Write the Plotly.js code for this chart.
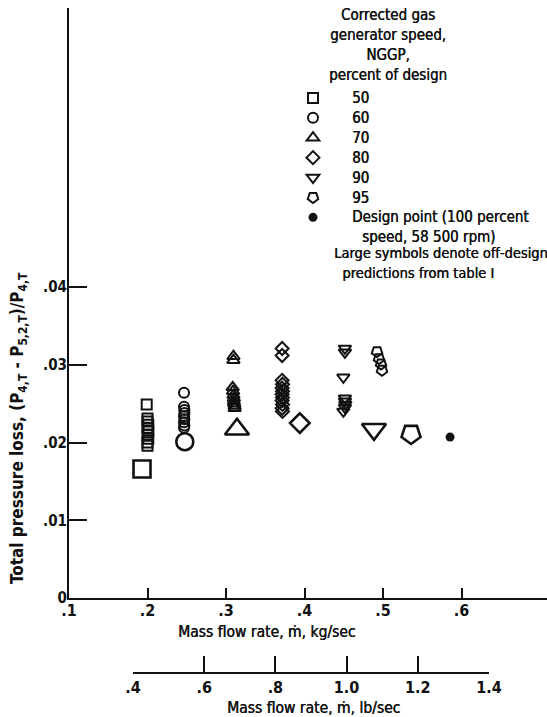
<!DOCTYPE html>
<html>
<head>
<meta charset="utf-8">
<script src="https://cdn.plot.ly/plotly-3.0.1.min.js"></script>
<style>
  html, body { margin: 0; padding: 0; background: #fff; }
  #chart { width: 547px; height: 717px; }
</style>
</head>
<body>
<div id="chart"></div>
<script>
// Total pressure loss vs. mass flow rate, by corrected gas generator speed (NGGP)

// 50 percent speed
const s50Flow = [0.199, 0.200, 0.200, 0.201, 0.200, 0.201, 0.200, 0.201, 0.200, 0.200];
const s50Loss = [0.0249, 0.0231, 0.0227, 0.0223, 0.0219, 0.0215, 0.0210, 0.0205, 0.0200, 0.0196];
// 60 percent speed
const s60Flow = [0.2465, 0.2465, 0.247, 0.247, 0.2465, 0.247, 0.2465, 0.247, 0.2465];
const s60Loss = [0.0264, 0.0246, 0.0242, 0.0238, 0.0234, 0.0230, 0.0226, 0.0222, 0.0219];
// 70 percent speed
const s70Flow = [0.3095, 0.3095, 0.3085, 0.309, 0.3095, 0.310, 0.310, 0.3105, 0.311, 0.311];
const s70Loss = [0.0311, 0.0306, 0.0271, 0.0266, 0.0261, 0.0257, 0.0253, 0.0250, 0.0247, 0.0244];
// 80 percent speed
const s80Flow = [0.3715, 0.3715, 0.3715, 0.372, 0.3715, 0.372, 0.3715, 0.372, 0.3715, 0.372, 0.3715, 0.372];
const s80Loss = [0.0321, 0.0312, 0.0280, 0.0275, 0.0270, 0.0266, 0.0262, 0.0258, 0.0254, 0.0249, 0.0244, 0.0240];
// 90 percent speed
const s90Flow = [0.4515, 0.4515, 0.4495, 0.4515, 0.4515, 0.452, 0.4515, 0.4495];
const s90Loss = [0.0321, 0.0316, 0.0284, 0.0257, 0.0253, 0.0249, 0.0245, 0.0240];
// 95 percent speed
const s95Flow = [0.4924, 0.4949, 0.4975, 0.4987];
const s95Loss = [0.0317, 0.0308, 0.0301, 0.0293];

// Off-design predictions (table I), one per speed: 50, 60, 70, 80, 90, 95
const predFlow = [0.193, 0.2475, 0.314, 0.394, 0.4885, 0.5357];
const predLoss = [0.0166, 0.0201, 0.0217, 0.0225, 0.0217, 0.0211];

// Design point (100 percent speed, 58 500 rpm)
const designFlow = [0.5854];
const designLoss = [0.0207];

const speedLabels = ['50', '60', '70', '80', '90', '95'];
const designLabel = 'Design point (100 percent';
const designLabel2 = 'speed, 58 500 rpm)';

const yTickVals = [0, 0.01, 0.02, 0.03, 0.04];
const yTickText = ['0', '.01', '.02', '.03', '.04'];
const xTickVals = [0.1, 0.2, 0.3, 0.4, 0.5, 0.6];
const xTickText = ['.1', '.2', '.3', '.4', '.5', '.6'];
const lbTickVals = [0.4, 0.6, 0.8, 1.0, 1.2, 1.4];
const lbTickText = ['.4', '.6', '.8', '1.0', '1.2', '1.4'];

const KG_PER_LB = 0.45359237;
const FONT = '"DejaVu Sans Condensed", "DejaVu Sans", sans-serif';
const INK = '#111';
const TXT = 15;   // legend text size
const HEAVY = '0.4px 0 0 #111';   // slight thickening of the regular-weight text

const xRange = [0.1, 0.7089];
const yRange = [0, 0.0759];

// page layout (pixels)
const W = 547, H = 717;
const M = {l: 69, r: 0, t: 8, b: 44};
const plotW = W - M.l - M.r, plotH = H - M.t - M.b;
const px = v => (v - M.l) / plotW;          // horizontal pixel -> paper
const py = v => (H - M.b - v) / plotH;      // vertical pixel -> paper

// larger glyphs on a tighter line pitch
const big = (s, size) => s.split('<br>').map(l => `<span style="font-size:${size || TXT}px">${l}</span>`).join('<br>');

// secondary (lb/sec) scale occupies the span of the kg axis it corresponds to
const kgToFrac = kg => (kg - xRange[0]) / (xRange[1] - xRange[0]);
const lbDomain = [kgToFrac(lbTickVals[0] * KG_PER_LB), kgToFrac(lbTickVals[lbTickVals.length - 1] * KG_PER_LB)];

const symbols = ['square-open', 'circle-open', 'triangle-up-open', 'diamond-open', 'triangle-down-open', 'pentagon-open'];
const smallSizes = [10, 10, 11, 10, 11, 11];
const largeSizes = [17, 17, 21, 15, 21, 20];
const angles = [0, 0, 0, 0, 0, 180];

const flows = [s50Flow, s60Flow, s70Flow, s80Flow, s90Flow, s95Flow];
const losses = [s50Loss, s60Loss, s70Loss, s80Loss, s90Loss, s95Loss];

const traces = [];
speedLabels.forEach((lab, i) => {
  traces.push({
    type: 'scatter', mode: 'markers', name: big(lab),
    x: flows[i], y: losses[i],
    marker: {symbol: symbols[i], size: smallSizes[i], angle: angles[i], color: INK, line: {color: INK, width: 2}},
    showlegend: true, hoverinfo: 'x+y'
  });
});
speedLabels.forEach((lab, i) => {
  traces.push({
    type: 'scatter', mode: 'markers', name: lab + ' (prediction)',
    x: [predFlow[i]], y: [predLoss[i]],
    marker: {symbol: symbols[i], size: largeSizes[i], angle: angles[i], color: INK, line: {color: INK, width: 2.6}},
    showlegend: false, hoverinfo: 'x+y'
  });
});
traces.push({
  type: 'scatter', mode: 'markers', name: big(designLabel),
  x: designFlow, y: designLoss,
  marker: {symbol: 'circle', size: 9, color: INK},
  showlegend: true, hoverinfo: 'x+y'
});
// invisible trace that carries the lb/sec axis
traces.push({
  type: 'scatter', mode: 'markers', x: [lbTickVals[0]], y: [0],
  xaxis: 'x2', yaxis: 'y', marker: {opacity: 0}, showlegend: false, hoverinfo: 'skip'
});

const tickFont = {family: FONT, size: 16, color: INK, weight: 'bold'};
const annFont = (size, weight) => ({family: FONT, size: size, color: INK, weight: weight || 'normal',
                                    shadow: weight === 'bold' ? 'none' : HEAVY});

const layout = {
  width: W, height: H,
  margin: M,
  paper_bgcolor: '#fff', plot_bgcolor: 'rgba(0,0,0,0)',
  font: {family: FONT, size: 14, color: INK},
  showlegend: true,
  legend: {
    x: px(274), y: py(83), xanchor: 'left', yanchor: 'top',
    itemwidth: 68, bgcolor: 'rgba(0,0,0,0)', borderwidth: 0,
    font: {family: FONT, size: 13, color: INK, shadow: HEAVY},
    valign: 'middle', traceorder: 'normal'
  },
  xaxis: {
    range: xRange, domain: [0, 1], anchor: 'y',
    showgrid: false, zeroline: false,
    showline: true, linecolor: INK, linewidth: 2,
    ticks: 'inside', ticklen: 10, tickwidth: 2, tickcolor: INK,
    tickvals: xTickVals, ticktext: xTickText, tickfont: tickFont,
    ticklabelstandoff: -3
  },
  xaxis2: {
    range: [lbTickVals[0], lbTickVals[lbTickVals.length - 1]], domain: lbDomain,
    anchor: 'free', position: 0,
    showgrid: false, zeroline: false,
    showline: true, linecolor: INK, linewidth: 2,
    ticks: 'inside', ticklen: 16, tickwidth: 2, tickcolor: INK,
    tickvals: lbTickVals, ticktext: lbTickText, tickfont: tickFont
  },
  yaxis: {
    range: yRange, domain: [py(598), 1], anchor: 'x',
    showgrid: false, zeroline: false,
    showline: true, linecolor: INK, linewidth: 2,
    ticks: 'inside', ticklen: 18, tickwidth: 2, tickcolor: INK,
    tickvals: yTickVals, ticktext: yTickText,
    tickfont: {family: FONT, size: 15, color: INK, weight: 'bold'},
    ticklabelstandoff: -3
  },
  annotations: [
    {text: big('Corrected gas<br>generator speed,<br>NGGP,<br>percent of design'),
     xref: 'paper', yref: 'paper', x: px(388), y: py(45), xanchor: 'center', yanchor: 'middle',
     showarrow: false, align: 'center', font: annFont(15.4)},
    {text: big(designLabel2),
     xref: 'paper', yref: 'paper', x: px(360), y: py(237), xanchor: 'left', yanchor: 'middle',
     showarrow: false, align: 'left', font: annFont(15)},
    {text: big('Large symbols denote off-design<br>  predictions from table I', 14.5),
     xref: 'paper', yref: 'paper', x: px(332), y: py(263), xanchor: 'left', yanchor: 'middle',
     showarrow: false, align: 'left', font: annFont(15)},
    {text: 'Total pressure loss, (P<sub>4,T</sub> - P<sub>5,2,T</sub>)/P<sub>4,T</sub>',
     xref: 'paper', yref: 'paper', x: px(18), y: py(428), xanchor: 'center', yanchor: 'middle',
     textangle: -90, showarrow: false, font: annFont(17, 'bold')},
    {text: 'Mass flow rate, ṁ, kg/sec',
     xref: 'paper', yref: 'paper', x: px(266), y: py(632), xanchor: 'center', yanchor: 'middle',
     showarrow: false, font: annFont(15.5)},
    {text: 'Mass flow rate, ṁ, lb/sec',
     xref: 'paper', yref: 'paper', x: px(313), y: py(708), xanchor: 'center', yanchor: 'middle',
     showarrow: false, font: annFont(15.5)}
  ]
};

Plotly.newPlot('chart', traces, layout, {displayModeBar: false, staticPlot: true});
</script>
</body>
</html>
